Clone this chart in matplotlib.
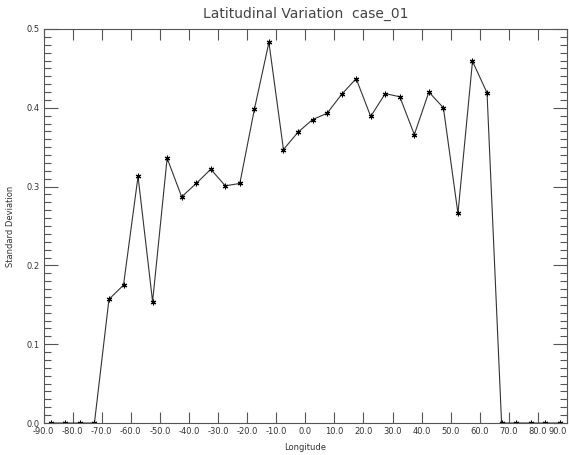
import numpy as np
import matplotlib.pyplot as plt
from matplotlib.ticker import MultipleLocator, FormatStrFormatter

# zonal band centres (5 degree bins) and the std dev in each
lon = np.arange(-87.5, 90.0, 5.0)
std_dev = [0.0, 0.0, 0.0, 0.0,
           0.157, 0.175, 0.313, 0.154, 0.336, 0.287, 0.304, 0.322,
           0.301, 0.304, 0.398, 0.483, 0.347, 0.369, 0.385, 0.393,
           0.417, 0.437, 0.389, 0.418, 0.414, 0.366, 0.420, 0.400,
           0.266, 0.459, 0.419,
           0.0, 0.0, 0.0, 0.0, 0.0]

title = 'Latitudinal Variation  case_01'
xlabel = 'Longitude'
ylabel = 'Standard Deviation'

fig = plt.figure(figsize=(5.69, 4.55), dpi=100)
ax = fig.add_axes([0.0765, 0.0703, 0.92, 0.866])

ax.plot(lon, std_dev, color='#333333', lw=0.8,
        marker=(6, 2, 0), ms=4, mew=0.8, mec='black')

ax.set_xlim(-90, 90)
ax.set_ylim(0, 0.5)
ax.xaxis.set_major_locator(MultipleLocator(10))
ax.xaxis.set_major_formatter(FormatStrFormatter('%.1f'))
ax.yaxis.set_major_locator(MultipleLocator(0.1))
ax.yaxis.set_minor_locator(MultipleLocator(0.01))
ax.yaxis.set_major_formatter(FormatStrFormatter('%.1f'))

ax.tick_params(axis='both', which='both', direction='in', top=True, right=True,
               color='#555555', width=0.8, labelsize=6, labelcolor='#333333', pad=3)
ax.tick_params(axis='x', which='major', length=8)
ax.tick_params(axis='y', which='major', length=10)
ax.tick_params(axis='y', which='minor', length=5)
for s in ax.spines.values():
    s.set_color('#555555')
    s.set_linewidth(0.8)

# keep the last x label inside the figure edge
fig.canvas.draw()
for lab in ax.get_xticklabels():
    if lab.get_text() == '90.0':
        lab.set_horizontalalignment('right')

ax.set_title(title, fontsize=10, color='#444444', pad=8)
ax.set_xlabel(xlabel, fontsize=6, color='#333333', labelpad=5)
ax.set_ylabel(ylabel, fontsize=6, color='#333333', labelpad=8)

fig.savefig('out.png', dpi=100)
